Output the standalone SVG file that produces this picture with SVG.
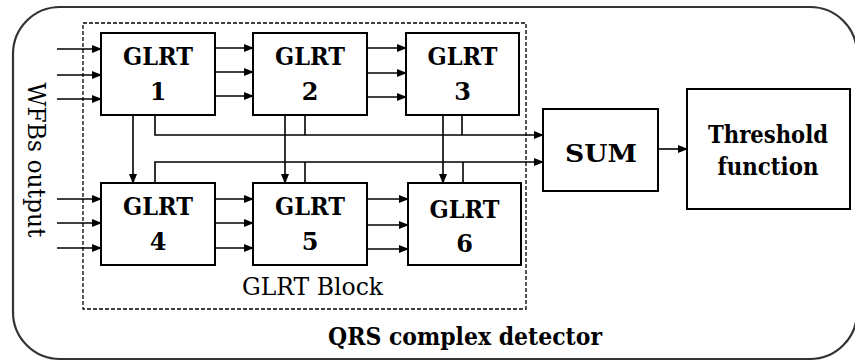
<svg xmlns="http://www.w3.org/2000/svg" width="855" height="362" viewBox="0 0 855 362">
<defs>
<marker id="ah" markerWidth="10" markerHeight="8" refX="9" refY="4" orient="auto" markerUnits="userSpaceOnUse">
<path d="M0,0 L10,4 L0,8 Z" fill="#000"/>
</marker>
<style>
.box{fill:#fff;stroke:#000;stroke-width:2}
.t{font-family:"DejaVu Serif","Liberation Serif",serif;font-weight:bold;font-size:24px;text-anchor:middle;fill:#000}
.r{font-family:"DejaVu Serif","Liberation Serif",serif;font-size:24px;text-anchor:middle;fill:#000}
.c{fill:none;stroke:#000;stroke-width:1.6}
.a{fill:none;stroke:#000;stroke-width:1.6;marker-end:url(#ah)}
</style>
</defs>
<rect width="855" height="362" fill="#fff"/>
<g id="detector">
<rect x="13" y="7" width="844" height="352" rx="47" ry="47" fill="none" stroke="#333" stroke-width="2.2"/>
<text class="t" x="465" y="345" font-size="26" textLength="274" lengthAdjust="spacingAndGlyphs">QRS complex detector</text>
</g>
<g id="glrt-block">
<rect x="83" y="23" width="443" height="286" fill="none" stroke="#000" stroke-width="1.3" stroke-dasharray="4 2"/>
<text class="r" x="312.5" y="295" textLength="141" lengthAdjust="spacingAndGlyphs">GLRT Block</text>
</g>
<g id="wfbs-label">
<text class="r" transform="translate(28,160) rotate(90)" x="0" y="0" font-size="23" textLength="155" lengthAdjust="spacingAndGlyphs">WFBs output</text>
</g>
<g id="connectors">
<path class="a" d="M57,49 H101"/><path class="a" d="M57,75 H101"/><path class="a" d="M57,99 H101"/>
<path class="a" d="M57,199 H101"/><path class="a" d="M57,223 H101"/><path class="a" d="M57,248 H101"/>
<path class="a" d="M215,48 H253"/><path class="a" d="M215,72 H253"/><path class="a" d="M215,96 H253"/>
<path class="a" d="M367,48 H406"/><path class="a" d="M367,73 H406"/><path class="a" d="M367,97 H406"/>
<path class="a" d="M215,199 H253"/><path class="a" d="M215,223 H253"/><path class="a" d="M215,248 H253"/>
<path class="a" d="M367,199 H408"/><path class="a" d="M367,225 H408"/><path class="a" d="M367,249 H408"/>
<path class="a" d="M133,115 V183"/><path class="a" d="M285,115 V183"/><path class="a" d="M443,115 V183"/>
<path class="a" d="M155,115 V135 H543"/><path class="c" d="M305,115 V135"/><path class="c" d="M462,115 V135"/>
<path class="a" d="M155,183 V162 H543"/><path class="c" d="M305,183 V162"/><path class="c" d="M463,183 V162"/>
<path class="a" d="M658,149 H687"/>
</g>
<g id="glrt1"><rect class="box" x="101" y="33" width="114" height="82"/><text class="t" x="158" y="65" textLength="70" lengthAdjust="spacingAndGlyphs">GLRT</text><text class="t" x="158" y="100">1</text></g>
<g id="glrt2"><rect class="box" x="253" y="33" width="114" height="82"/><text class="t" x="310" y="65" textLength="70" lengthAdjust="spacingAndGlyphs">GLRT</text><text class="t" x="310" y="100">2</text></g>
<g id="glrt3"><rect class="box" x="406" y="33" width="113" height="82"/><text class="t" x="462.5" y="65" textLength="70" lengthAdjust="spacingAndGlyphs">GLRT</text><text class="t" x="462.5" y="100">3</text></g>
<g id="glrt4"><rect class="box" x="101" y="183" width="114" height="82"/><text class="t" x="158" y="215" textLength="70" lengthAdjust="spacingAndGlyphs">GLRT</text><text class="t" x="158" y="250">4</text></g>
<g id="glrt5"><rect class="box" x="253" y="183" width="114" height="82"/><text class="t" x="310" y="215" textLength="70" lengthAdjust="spacingAndGlyphs">GLRT</text><text class="t" x="310" y="250">5</text></g>
<g id="glrt6"><rect class="box" x="408" y="183" width="113" height="82"/><text class="t" x="464.5" y="218" textLength="70" lengthAdjust="spacingAndGlyphs">GLRT</text><text class="t" x="464.5" y="252">6</text></g>
<g id="sum"><rect class="box" x="543" y="109" width="115" height="82"/><text class="t" x="601" y="162" font-size="28" textLength="72" lengthAdjust="spacingAndGlyphs">SUM</text></g>
<g id="threshold"><rect class="box" x="687" y="89" width="163" height="120"/><text class="t" x="768" y="143" font-size="26" textLength="120" lengthAdjust="spacingAndGlyphs">Threshold</text><text class="t" x="768" y="175" font-size="26" textLength="101" lengthAdjust="spacingAndGlyphs">function</text></g>
</svg>
